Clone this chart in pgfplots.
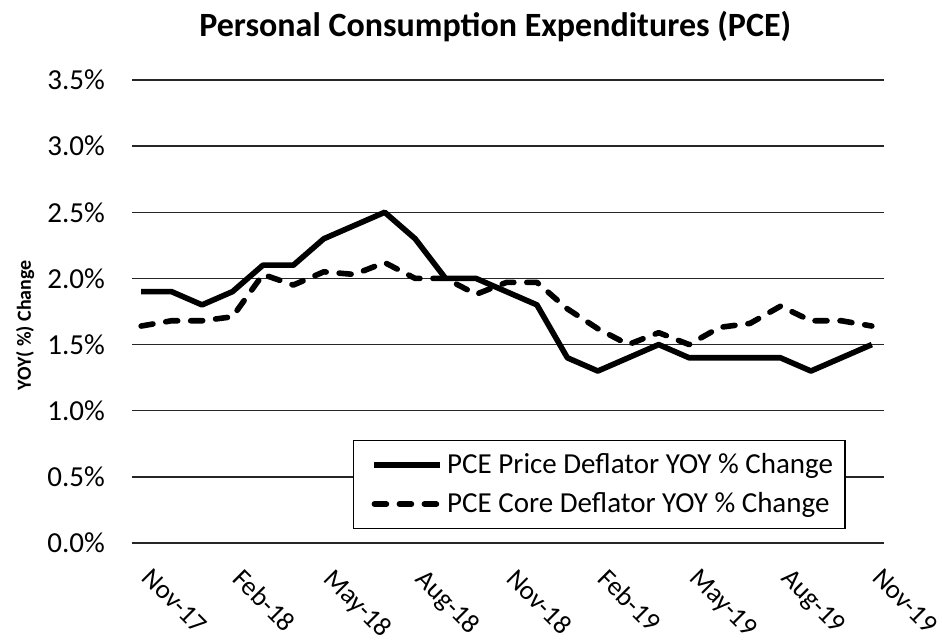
\documentclass[border=0pt]{standalone}
\usepackage{pgfplots}
\pgfplotsset{compat=1.18}
\usepackage{fontspec}
\setmainfont{Carlito}
\begin{document}
\begin{tikzpicture}[x=1pt,y=1pt]
\useasboundingbox (-66,-49) rectangle (405,271.5);
\begin{axis}[
  at={(0,0)}, anchor=south west,
  scale only axis, width=376pt, height=231.5pt,
  xmin=-0.3, xmax=24.4, ymin=0, ymax=3.5,
  axis line style={draw=none},
  ymajorgrids, grid style={black!85, line width=0.7pt},
  major tick length=0pt,
  ytick={0,0.5,...,3.5},
  yticklabels={0.0\%,0.5\%,1.0\%,1.5\%,2.0\%,2.5\%,3.0\%,3.5\%},
  yticklabel style={font=\fontsize{14.5}{16}\selectfont, xshift=-10pt},
  xtick={0,3,...,24},
  xticklabels={Nov-17,Feb-18,May-18,Aug-18,Nov-18,Feb-19,May-19,Aug-19,Nov-19},
  xticklabel style={font=\fontsize{13.5}{15}\selectfont, xshift=6pt, yshift=-7pt, rotate=-45, anchor=north west},
  title={Personal Consumption Expenditures (PCE)},
  title style={font=\bfseries\fontsize{17}{20}\selectfont, at={(0.483,1)}, anchor=base, yshift=15.5pt},
  ylabel={YOY( \%) Change},
  ylabel style={font=\bfseries\fontsize{10}{12}\selectfont, at={(axis description cs:-0.142,0.47)}, anchor=center},
  legend style={at={(axis cs:6.96,0.78)}, anchor=north west, draw=black, line width=0.6pt,
     font=\fontsize{14.5}{16}\selectfont, inner xsep=4pt, inner ysep=4.5pt, row sep=4pt},
  legend cell align=left,
  legend image code/.code={\path (0pt,0pt); \draw[#1] (5pt,0pt) -- (38pt,0pt);},
]
\addplot[black, line width=2.8pt, line join=round] coordinates {
(0,1.9)(1,1.9)(2,1.8)(3,1.9)(4,2.1)(5,2.1)(6,2.3)(7,2.4)(8,2.5)(9,2.3)(10,2.0)(11,2.0)(12,1.9)
(13,1.8)(14,1.4)(15,1.3)(16,1.4)(17,1.5)(18,1.4)(19,1.4)(20,1.4)(21,1.4)(22,1.3)(23,1.4)(24,1.5)};
\addlegendentry{PCE Price Deflator YOY \% Change}
\addplot[black, line width=2.8pt, line cap=round, line join=round, dash pattern=on 6pt off 6.5pt] coordinates {
(0,1.64)(1,1.68)(2,1.68)(3,1.71)(4,2.03)(5,1.95)(6,2.05)(7,2.03)(8,2.12)(9,2.0)(10,2.0)(11,1.88)(12,1.97)
(13,1.97)(14,1.77)(15,1.62)(16,1.5)(17,1.59)(18,1.5)(19,1.63)(20,1.66)(21,1.79)(22,1.68)(23,1.68)(24,1.64)};
\addlegendentry{PCE Core Deflator YOY \% Change}
\end{axis}
\end{tikzpicture}
\end{document}
